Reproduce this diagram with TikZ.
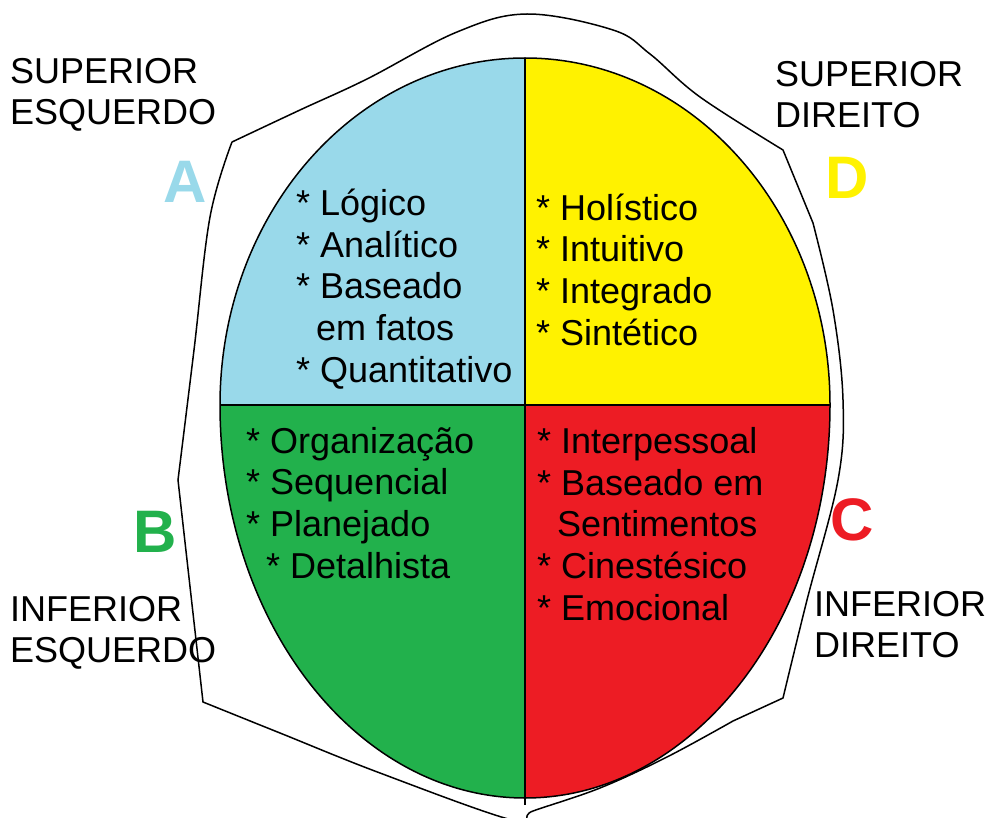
\documentclass[tikz,border=0pt]{standalone}
\usepackage{fontspec}
\setmainfont{Liberation Sans}
\usetikzlibrary{positioning}
\definecolor{azul}{HTML}{99D9EA}
\definecolor{amarelo}{HTML}{FFF200}
\definecolor{verde}{HTML}{22B14C}
\definecolor{vermelho}{HTML}{ED1C24}
\tikzstyle{quadtext} = [anchor=base west, align=left, inner sep=0pt, font=\fontsize{36}{41.6}\selectfont]
\tikzstyle{sidelabel} = [anchor=base west, align=left, inner sep=0pt, font=\fontsize{36}{41}\selectfont]
\tikzstyle{letter} = [inner sep=0pt, font=\fontsize{60}{60}\selectfont\bfseries]
\tikzstyle{border} = [draw=black, line width=1.5pt]

\begin{document}
\begin{tikzpicture}[x=1pt, y=-1pt]
	\useasboundingbox (0,0) rectangle (987,818);

	% Head outline - - - - - - - - - - - - - - - - - - - - - - - - - - - - - - -
	\draw[border, line join=miter]
		plot[smooth, tension=0.6] coordinates {(232,142) (300,110) (367,79) (457,32) (527,14) (613,30) (650,54) (700,97) (783,150)}
		-- plot[smooth, tension=0.6] coordinates {(813,223) (833,310) (843,400) (838,480) (807,600) (783,698)}
		-- plot[smooth, tension=0.6] coordinates {(733,721) (667,757) (600,788) (533,811) (512,820) (380,773) (280,733) (203,702)}
		-- plot[smooth, tension=0.6] coordinates {(178,480) (194,350) (210,217) (232,142)};

	% Quadrants - - - - - - - - - - - - - - - - - - - - - - - - - - - - - - - -
	\fill[azul] (525,405) -- (220,405) arc[start angle=180, end angle=270, x radius=305, y radius=347] -- cycle;
	\fill[amarelo] (525,405) -- (525,58) arc[start angle=270, end angle=360, x radius=305, y radius=347] -- cycle;
	\fill[vermelho] (525,405) -- (830,405) arc[start angle=0, end angle=90, x radius=305, y radius=393] -- cycle;
	\fill[verde] (525,405) -- (525,798) arc[start angle=90, end angle=180, x radius=305, y radius=393] -- cycle;
	\draw[border] (220,405) arc[start angle=180, end angle=360, x radius=305, y radius=347]
		arc[start angle=0, end angle=180, x radius=305, y radius=393];
	\draw[border] (220,405) -- (830,405);
	\draw[border] (525,58) -- (525,805);

	% Quadrant texts (placed at the baseline of the last line) . . . . . . . . .
	\node(logico) [quadtext] at (296,382)
		{* Lógico\\* Analítico\\* Baseado\\\hspace*{0.556em}em fatos\\* Quantitativo};
	\node(holistico) [quadtext] at (536,345)
		{* Holístico\\* Intuitivo\\* Integrado\\* Sintético};
	\node(organizacao) [quadtext] at (246,578)
		{* Organização\\* Sequencial\\* Planejado\\\hspace*{0.556em}* Detalhista};
	\node(interpessoal) [quadtext] at (537,620)
		{* Interpessoal\\* Baseado em\\\hspace*{0.556em}Sentimentos\\* Cinestésico\\* Emocional};

	% Side labels . . . . . . . . . . . . . . . . . . . . . . . . . . . . . . .
	\node(supesq) [sidelabel] at (10,125) {SUPERIOR\\ESQUERDO};
	\node(supdir) [sidelabel] at (775,128) {SUPERIOR\\DIREITO};
	\node(infesq) [sidelabel] at (10,662) {INFERIOR\\ESQUERDO};
	\node(infdir) [sidelabel] at (814,657) {INFERIOR\\DIREITO};

	% Letters
	\node(letraA) [letter, text=azul] at (185,182) {A};
	\node(letraD) [letter, text=amarelo] at (847,178) {D};
	\node(letraB) [letter, text=verde] at (155,532) {B};
	\node(letraC) [letter, text=vermelho] at (852,520) {C};

\end{tikzpicture}
\end{document}
